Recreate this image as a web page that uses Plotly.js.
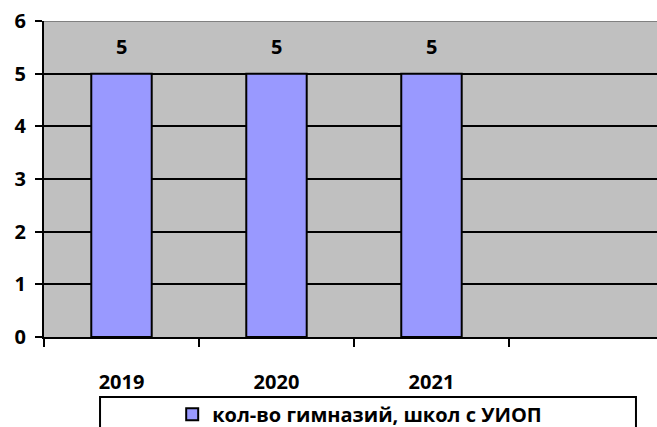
<!DOCTYPE html>
<html>
<head>
<meta charset="utf-8">
<script src="https://cdn.plot.ly/plotly-3.0.1.min.js"></script>
<style>html,body{margin:0;padding:0;background:#fff;}#chart{width:657px;height:427px;}</style>
</head>
<body>
<div id="chart"></div>
<script>
const years = ['2019', '2020', '2021'];
const values = [5, 5, 5];
const seriesName = 'кол-во гимназий, школ с УИОП';
const yTicks = [0, 1, 2, 3, 4, 5, 6];

const FONT = '"Open Sans", "DejaVu Sans", sans-serif';
const F = {family: FONT, size: 20, color: '#000', weight: 'bold'};

const trace = {
  type: 'bar',
  x: years,
  y: values,
  name: seriesName,
  width: 0.39,
  marker: {color: '#9999FF', line: {color: '#000000', width: 2}},
  showlegend: true,
  hoverinfo: 'none'
};

const annotations = years.map((yr, i) => ({
  x: i, y: values[i], xref: 'x', yref: 'y',
  text: String(values[i]), showarrow: false,
  yanchor: 'middle',
  yshift: 27, font: F
}));

const layout = {
  width: 657, height: 427,
  margin: {l: 44, r: 0, t: 21, b: 90, autoexpand: false},
  paper_bgcolor: '#ffffff',
  plot_bgcolor: '#C0C0C0',
  font: F,
  xaxis: {
    type: 'category',
    categoryorder: 'array',
    categoryarray: years,
    range: [-0.5, 3.455],
    tickson: 'boundaries',
    ticks: 'outside', ticklen: 8, tickwidth: 2, tickcolor: '#000',
    showline: true, linecolor: '#000', linewidth: 2,
    showgrid: false, zeroline: false,
    ticklabelstandoff: 26,
    tickfont: F,
    automargin: false,
    fixedrange: true
  },
  yaxis: {
    range: [0, 6],
    tickvals: yTicks,
    ticktext: yTicks.map(String),
    ticks: 'outside', ticklen: 7, tickwidth: 2, tickcolor: '#000',
    showline: true, linecolor: '#000', linewidth: 2,
    showgrid: true, gridcolor: '#000', gridwidth: 2,
    zeroline: false,
    ticklabelstandoff: 5,
    tickfont: F,
    automargin: false,
    fixedrange: true
  },
  showlegend: true,
  legend: {
    orientation: 'h',
    x: 0.515, xanchor: 'center',
    y: -0.183, yanchor: 'top',
    bgcolor: 'rgba(0,0,0,0)',
    borderwidth: 0,
    font: F,
    itemclick: false, itemdoubleclick: false
  },
  shapes: [
    {type: 'line', xref: 'paper', yref: 'y', x0: 0, x1: 1, y0: 6, y1: 6,
     line: {color: '#808080', width: 2}, layer: 'above'},
    {type: 'rect', xref: 'paper', yref: 'paper', x0: 0.0914, x1: 0.9657, y0: -0.19, y1: -0.4,
     line: {color: '#000', width: 2}, fillcolor: 'rgba(0,0,0,0)'}
  ],
  annotations: annotations
};

Plotly.newPlot('chart', [trace], layout, {displayModeBar: false, staticPlot: true});
</script>
</body>
</html>
